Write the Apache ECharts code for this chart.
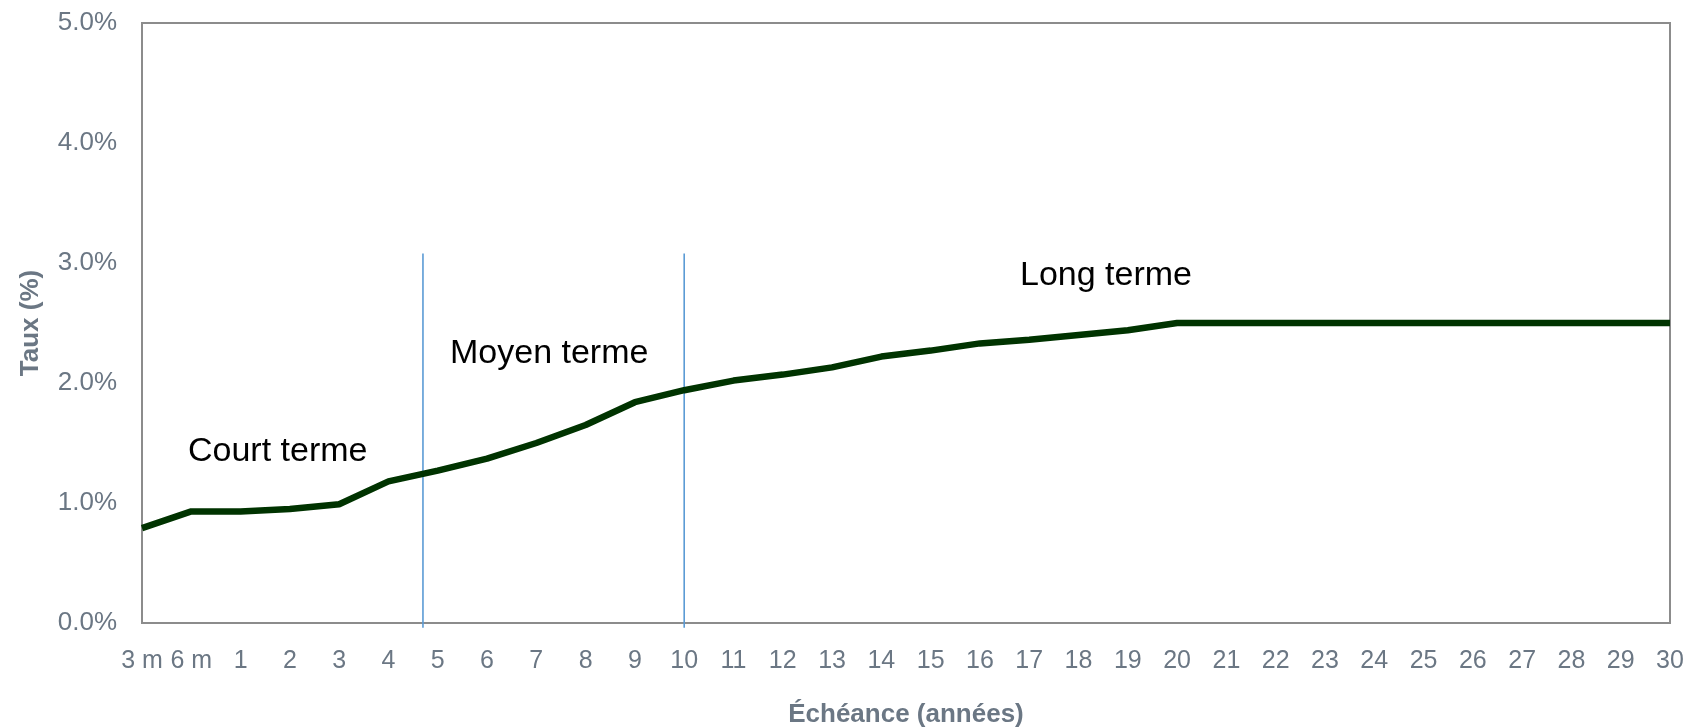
<!DOCTYPE html>
<html>
<head>
<meta charset="utf-8">
<script src="https://cdn.jsdelivr.net/npm/echarts@6/dist/echarts.min.js"></script>
<style>html,body{margin:0;padding:0;background:#fff;}#c{width:1700px;height:727px;}</style>
</head>
<body>
<div id="c"></div>
<script>
// Maturities (category labels)
const maturities = ['3 m','6 m','1','2','3','4','5','6','7','8','9','10','11','12','13','14','15','16','17','18','19','20','21','22','23','24','25','26','27','28','29','30'];
// Rates in %
const rates = [0.79,0.93,0.93,0.95,0.99,1.18,1.27,1.37,1.50,1.65,1.84,1.94,2.02,2.07,2.13,2.22,2.27,2.33,2.36,2.40,2.44,2.50,2.50,2.50,2.50,2.50,2.50,2.50,2.50,2.50,2.50,2.50];
// Y ticks
const yTicks = [0,1,2,3,4,5];
// Vertical dividers, in category-index units along the x axis
const dividers = [5.7, 11];
const dividerRange = [-0.04, 3.08];
// Zone labels
const zones = ['Court terme','Moyen terme','Long terme'];

const FONT = 'Liberation Sans, Arial, sans-serif';
const GRAY = '#6B7784';
const chart = echarts.init(document.getElementById('c'));

const dividerSeries = dividers.map(d => ({
  type: 'line', xAxisIndex: 1, yAxisIndex: 0, clip: false, silent: true,
  symbol: 'none', lineStyle: {color: '#5B9BD5', width: 1.6},
  data: [[d, dividerRange[0]], [d, dividerRange[1]]], z: 1
}));

chart.setOption({
  animation: false,
  textStyle: {fontFamily: FONT},
  grid: {left: 142, right: 30, top: 23, bottom: 104, show: true, borderColor: '#8C8C8C', borderWidth: 2, backgroundColor: 'transparent', containLabel: false, outerBoundsMode: 'none'},
  xAxis: [{
    type: 'category', data: maturities, boundaryGap: false,
    axisLine: {show: true, lineStyle: {color: '#8C8C8C', width: 2}},
    axisTick: {show: false},
    axisLabel: {interval: 0, color: GRAY, fontSize: 25, fontFamily: FONT, margin: 26},
    name: 'Échéance (années)', nameLocation: 'middle', nameGap: 79,
    nameTextStyle: {color: GRAY, fontSize: 26, fontWeight: 'bold', fontFamily: FONT}
  }, {
    type: 'value', min: 0, max: maturities.length - 1, show: false
  }],
  yAxis: {
    type: 'value', min: yTicks[0], max: yTicks[yTicks.length-1], interval: 1,
    axisLine: {show: true, lineStyle: {color: '#8C8C8C', width: 2}},
    axisTick: {show: false}, splitLine: {show: false},
    axisLabel: {color: GRAY, fontSize: 26, fontFamily: FONT, margin: 25, formatter: v => v.toFixed(1) + '%'},
    name: 'Taux (%)', nameLocation: 'middle', nameGap: 98, nameRotate: 90,
    nameTextStyle: {color: GRAY, fontSize: 26, fontWeight: 'bold', fontFamily: FONT}
  },
  series: [{
    type: 'line', data: rates, symbol: 'none', z: 3,
    lineStyle: {color: '#003300', width: 6.5}
  }].concat(dividerSeries),
  graphic: [
    {type: 'text', left: 188, top: 435, style: {text: zones[0], font: '34px ' + FONT, fill: '#000', textVerticalAlign: 'middle'}},
    {type: 'text', left: 450, top: 337, style: {text: zones[1], font: '34px ' + FONT, fill: '#000', textVerticalAlign: 'middle'}},
    {type: 'text', left: 1020, top: 259, style: {text: zones[2], font: '34px ' + FONT, fill: '#000', textVerticalAlign: 'middle'}}
  ]
});
</script>
</body>
</html>
